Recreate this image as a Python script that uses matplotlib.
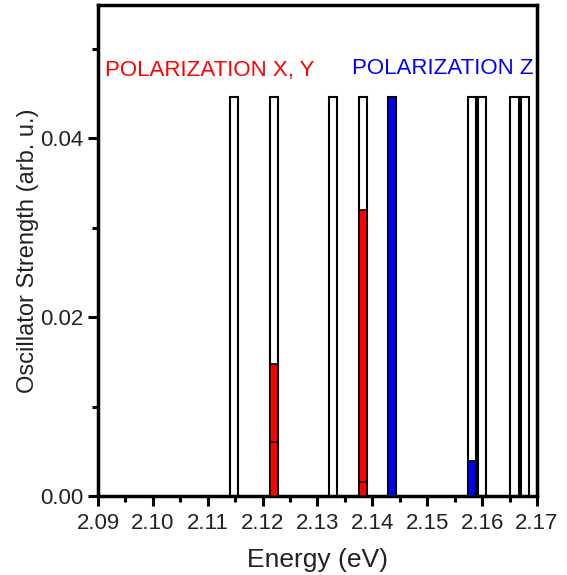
import matplotlib.pyplot as plt
from matplotlib.ticker import MultipleLocator

plt.rcParams['font.family'] = ['Liberation Sans', 'DejaVu Sans']

# all transitions (outline bars)
energies = [2.1148, 2.1221, 2.1328, 2.1383, 2.1436, 2.1582, 2.1600, 2.1659, 2.1678]
strengths = [0.0446] * len(energies)

# polarization x, y
xy_energies = [2.1221, 2.1383, 2.1221, 2.1383]
xy_strengths = [0.0148, 0.0320, 0.0060, 0.0016]

# polarization z
z_energies = [2.1436, 2.1582]
z_strengths = [0.0446, 0.0039]

bar_w = 0.0015

fig = plt.figure(figsize=(5.67, 5.75), dpi=100)
ax = fig.add_axes([0.1728, 0.1374, 0.7742, 0.8539])

ax.bar(energies, strengths, width=bar_w, color='white', edgecolor='black', linewidth=1.5, zorder=2)
ax.bar(xy_energies, xy_strengths, width=bar_w, color='#ff0000', edgecolor='black', linewidth=1.2, zorder=3)
ax.bar(z_energies, z_strengths, width=bar_w, color='#0000ff', edgecolor='black', linewidth=1.2, zorder=3)

ax.set_xlim(2.09, 2.17)
ax.set_ylim(0, 0.0549)
ax.xaxis.set_major_locator(MultipleLocator(0.01))
ax.xaxis.set_minor_locator(MultipleLocator(0.005))
ax.yaxis.set_major_locator(MultipleLocator(0.02))
ax.yaxis.set_minor_locator(MultipleLocator(0.01))
ax.xaxis.set_major_formatter(plt.FormatStrFormatter('%.2f'))
ax.yaxis.set_major_formatter(plt.FormatStrFormatter('%.2f'))

for s in ax.spines.values():
    s.set_linewidth(2.5)
ax.tick_params(which='major', direction='out', length=7, width=2.2, labelsize=16, colors='black', labelcolor='#222222')
ax.tick_params(axis='x', which='major', pad=5)
ax.tick_params(which='minor', direction='out', length=4, width=2.2)

ax.set_xlabel('Energy (eV)', fontsize=19, color='#222222', labelpad=10)
ax.set_ylabel('Oscillator Strength (arb. u.)', fontsize=17, color='#222222', labelpad=1)

ax.text(2.0913, 0.0470, 'POLARIZATION X, Y', color='#ff0000', fontsize=16)
ax.text(2.1363, 0.0472, 'POLARIZATION Z', color='#0000ff', fontsize=16)

fig.savefig('out.png', dpi=100)
